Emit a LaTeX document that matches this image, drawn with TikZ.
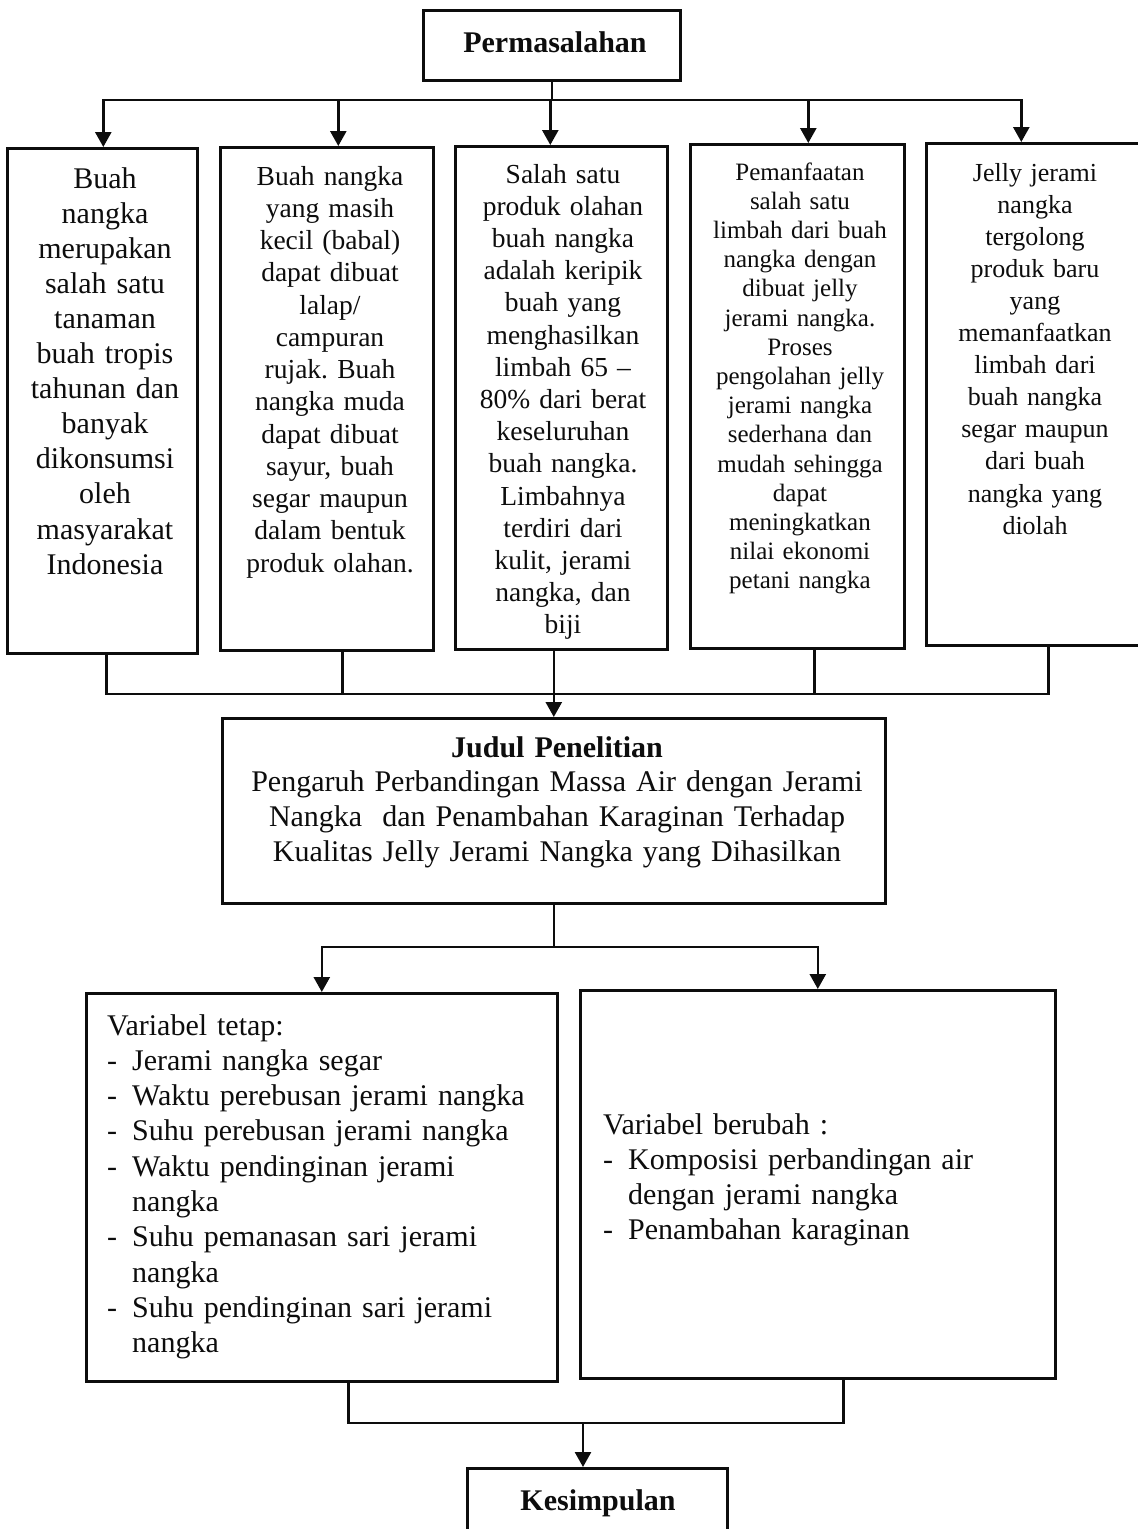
\documentclass[tikz,border=0pt]{standalone}
\usepackage{fontspec}
\setmainfont{Liberation Serif}
\usetikzlibrary{arrows.meta,positioning}
\frenchspacing
\def\W{1138}
\def\H{1529}
\def\U{pt}
\def\LW{2.6pt}
\definecolor{inkcolor}{gray}{0.05}
\definecolor{pagecolor}{gray}{1}
\newcommand{\dashitem}[1]{\makebox[25\U][l]{-}#1}
\newcommand{\dashcont}[1]{\hspace*{25\U}#1}

\begin{document}
\begin{tikzpicture}[x=1\U,y=-1\U,
  box/.style={draw=inkcolor,line width=\LW,anchor=north west,inner sep=0pt},
  txt/.style={anchor=base,align=center,inner sep=0pt,text=inkcolor},
  lefttxt/.style={txt,anchor=base west,align=left},
  link/.style={draw=inkcolor,line width=\LW},
  arr/.style={link,-{Triangle[length=15\U,width=16\U]}}]
\useasboundingbox (0,0) rectangle (\W,\H);
\fill[pagecolor] (0,0) rectangle (\W,\H);

% boxes
\node[box,minimum width=257\U,minimum height=70\U] (pm) at (422,9) {};
\node[box,minimum width=190\U,minimum height=505\U] (b1) at (6,147) {};
\node[box,minimum width=213\U,minimum height=503\U] (b2) at (219,146) {};
\node[box,minimum width=212\U,minimum height=503\U] (b3) at (454,145) {};
\node[box,minimum width=214\U,minimum height=504\U] (b4) at (689,143) {};
\node[box,minimum width=230\U,minimum height=502\U] (b5) at (925,142) {};
\node[box,minimum width=663\U,minimum height=185\U] (jd) at (221,717) {};
\node[box,minimum width=471\U,minimum height=388\U] (vt) at (85,992) {};
\node[box,minimum width=475\U,minimum height=388\U] (vb) at (579,989) {};
\node[box,minimum width=260\U,minimum height=90\U] (ks) at (466,1467) {};

% texts
\node[txt,text width=250\U,font=\fontsize{30\U}{35\U}\selectfont\bfseries] (pmt) at (555,52) {Permasalahan};
\node[txt,text width=182\U,font=\fontsize{30\U}{35.1\U}\selectfont] (t1) at (105,188)
  {Buah\\ nangka\\ merupakan\\ salah satu\\ tanaman\\ buah tropis\\ tahunan dan\\ banyak\\ dikonsumsi\\ oleh\\ masyarakat\\ Indonesia};
\node[txt,text width=205\U,font=\fontsize{27.5\U}{32.25\U}\selectfont] (t2) at (330,185)
  {Buah nangka\\ yang masih\\ kecil (babal)\\ dapat dibuat\\ lalap/\\ campuran\\ rujak. Buah\\ nangka muda\\ dapat dibuat\\ sayur, buah\\ segar maupun\\ dalam bentuk\\ produk olahan.};
\node[txt,text width=204\U,font=\fontsize{27.5\U}{32.2\U}\selectfont] (t3) at (563,183)
  {Salah satu\\ produk olahan\\ buah nangka\\ adalah keripik\\ buah yang\\ menghasilkan\\ limbah 65 --\\ 80\% dari berat\\ keseluruhan\\ buah nangka.\\ Limbahnya\\ terdiri dari\\ kulit, jerami\\ nangka, dan\\ biji};
\node[txt,text width=206\U,font=\fontsize{25\U}{29.2\U}\selectfont] (t4) at (800,180)
  {Pemanfaatan\\ salah satu\\ limbah dari buah\\ nangka dengan\\ dibuat jelly\\ jerami nangka.\\ Proses\\ pengolahan jelly\\ jerami nangka\\ sederhana dan\\ mudah sehingga\\ dapat\\ meningkatkan\\ nilai ekonomi\\ petani nangka};
\node[txt,text width=200\U,font=\fontsize{26\U}{32.1\U}\selectfont] (t5) at (1035,181)
  {Jelly jerami\\ nangka\\ tergolong\\ produk baru\\ yang\\ memanfaatkan\\ limbah dari\\ buah nangka\\ segar maupun\\ dari buah\\ nangka yang\\ diolah};
\node[txt,text width=650\U,font=\fontsize{30\U}{34.7\U}\selectfont] (jdt) at (557,757)
  {\textbf{Judul Penelitian}\\ Pengaruh Perbandingan Massa Air dengan Jerami\\ Nangka~ dan Penambahan Karaginan Terhadap\\ Kualitas Jelly Jerami Nangka yang Dihasilkan};
\node[lefttxt,text width=450\U,font=\fontsize{30\U}{35.3\U}\selectfont] (vtt) at (107,1035)
  {Variabel tetap:\\
   \dashitem{Jerami nangka segar}\\
   \dashitem{Waktu perebusan jerami nangka}\\
   \dashitem{Suhu perebusan jerami nangka}\\
   \dashitem{Waktu pendinginan jerami}\\
   \dashcont{nangka}\\
   \dashitem{Suhu pemanasan sari jerami}\\
   \dashcont{nangka}\\
   \dashitem{Suhu pendinginan sari jerami}\\
   \dashcont{nangka}};
\node[lefttxt,text width=440\U,font=\fontsize{30\U}{35\U}\selectfont] (vbt) at (603,1134)
  {Variabel berubah :\\
   \dashitem{Komposisi perbandingan air}\\
   \dashcont{dengan jerami nangka}\\
   \dashitem{Penambahan karaginan}};
\node[txt,text width=250\U,font=\fontsize{30\U}{35\U}\selectfont\bfseries] (kst) at (598,1510) {Kesimpulan};

% connectors
\coordinate (bus1) at (549,100);
\coordinate (bus2) at (553,694);
\coordinate (bus3) at (552.5,947);
\coordinate (bus4) at (583,1423);
\draw[link] (pm.south) -- (pm.south |- bus1);
\draw[arr] (bus1) -| ([xshift=1\U]b1.north);
\draw[arr] (bus1) -| ([xshift=11.5\U]b2.north);
\draw[arr] (bus1) -| ([xshift=-11\U]b3.north);
\draw[arr] (bus1) -| ([xshift=11\U]b4.north);
\draw[arr] (bus1) -| ([xshift=-20\U]b5.north);
\foreach \b/\dx in {b1/4,b2/15.5,b4/17,b5/7}
  \draw[link] ([xshift=\dx\U]\b.south) |- (bus2);
\draw[arr] (jd.north |- b3.south) -- (jd.north);
\draw[link] (jd.south) -- (jd.south |- bus3);
\draw[arr] (bus3) -| (vt.north);
\draw[arr] (bus3) -| (vb.north);
\draw[link] ([xshift=26.5\U]vt.south) |- (bus4);
\draw[link] ([xshift=25.5\U]vb.south) |- (bus4);
\draw[arr] (bus4) -- (bus4 |- ks.north);
\end{tikzpicture}
\end{document}
